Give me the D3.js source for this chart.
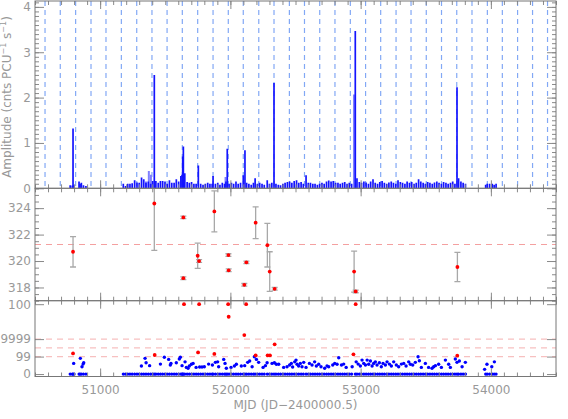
<!DOCTYPE html>
<html>
<head>
<meta charset="utf-8">
<script src="https://cdnjs.cloudflare.com/ajax/libs/d3/7.8.5/d3.min.js"></script>
<style>
  body { margin: 0; background: #fff; }
  svg { display: block; }
  text { font-family: "DejaVu Sans", sans-serif; fill: #999; }
</style>
</head>
<body>
<div id="chart-area"></div>
<script>
// ---- data ----
// observation times (MJD) and pulse amplitude (top panel)
var obsMjd = [50770, 50786, 50792, 50800, 50838, 50846, 50856, 50872, 50891,
  51178, 51195, 51212, 51229, 51246, 51265, 51283, 51300, 51318, 51335, 51352, 51370, 51388, 51404, 51416, 51428,
  51446, 51463, 51480, 51498, 51515, 51532, 51550, 51568, 51585, 51603, 51620, 51629, 51634, 51639, 51650, 51668,
  51685, 51702, 51720, 51737, 51754, 51772, 51790, 51808, 51826, 51843, 51860, 51867, 51885, 51903, 51920, 51938,
  51955, 51966, 51976, 51990, 52008, 52025, 52043, 52060, 52078, 52099, 52112, 52125, 52142, 52160, 52177, 52190,
  52208, 52225, 52243, 52260, 52283, 52300, 52318, 52335, 52350, 52368, 52385, 52403, 52420, 52438, 52455, 52472,
  52490, 52508, 52525, 52543, 52560, 52581, 52598, 52615, 52633, 52650, 52668, 52685, 52703, 52720, 52738, 52755,
  52773, 52790, 52808, 52826, 52843, 52861, 52878, 52896, 52913, 52931, 52959, 52972, 52990, 53007, 53025, 53042,
  53060, 53077, 53095, 53112, 53130, 53147, 53165, 53182, 53200, 53217, 53235, 53252, 53270, 53287, 53305, 53322,
  53340, 53357, 53375, 53392, 53410, 53427, 53445, 53462, 53480, 53497, 53515, 53532, 53550, 53567, 53585, 53602,
  53620, 53637, 53655, 53672, 53690, 53707, 53724, 53740, 53752, 53770, 53787, 53805,
  53960, 53972, 53990, 54010, 54025, 54040];
var obsAmp = [0.07, 0.06, 1.32, 0.07, 0.15, 0.1, 0.12, 0.07, 0.05,
  0.1, 0.05, 0.1, 0.1, 0.11, 0.18, 0.13, 0.12, 0.24, 0.2, 0.12, 0.15, 0.1, 0.16, 2.5, 0.16,
  0.12, 0.16, 0.16, 0.15, 0.1, 0.18, 0.12, 0.12, 0.2, 0.15, 0.27, 0.3, 0.7, 0.92, 0.33, 0.14,
  0.12, 0.14, 0.1, 0.1, 0.5, 0.1, 0.08, 0.1, 0.12, 0.1, 0.1, 0.27, 0.1, 0.12, 0.08, 0.12,
  0.1, 0.15, 0.87, 0.1, 0.12, 0.1, 0.15, 0.1, 0.12, 0.29, 0.84, 0.12, 0.1, 0.08, 0.12, 0.22,
  0.1, 0.12, 0.1, 0.08, 0.18, 0.1, 0.12, 2.32, 0.1, 0.08, 0.07, 0.1, 0.12, 0.14, 0.15, 0.12,
  0.16, 0.18, 0.12, 0.14, 0.1, 0.29, 0.12, 0.12, 0.1, 0.1, 0.08, 0.1, 0.12, 0.1, 0.15, 0.17,
  0.15, 0.16, 0.12, 0.12, 0.1, 0.12, 0.14, 0.1, 0.12, 0.1, 3.47, 0.22, 0.14, 0.12, 0.15, 0.13,
  0.1, 0.15, 0.2, 0.12, 0.1, 0.14, 0.16, 0.12, 0.1, 0.13, 0.15, 0.12, 0.1, 0.18, 0.14, 0.12,
  0.1, 0.15, 0.12, 0.14, 0.1, 0.12, 0.2, 0.15, 0.12, 0.1, 0.14, 0.12, 0.1, 0.13, 0.15, 0.12,
  0.1, 0.14, 0.12, 0.1, 0.12, 0.15, 0.1, 2.23, 0.22, 0.15, 0.12, 0.1,
  0.08, 0.1, 0.1, 0.1, 0.08, 0.1];
// fainter amplitude bars
var faintMjd = [51352, 51374, 51390, 51963, 52949];
var faintAmp = [0.15, 0.38, 0.3, 0.25, 2.07];

// reference epochs (dashed lines, top panel)
var epochMjd = [50577, 50694, 50812, 50930, 51045, 51163, 51281, 51398, 51514, 51631, 51749, 51867,
  51984, 52099, 52218, 52335, 52453, 52569, 52686, 52803, 52921, 53038, 53154, 53272,
  53387, 53504, 53621, 53738, 53855, 53973, 54088, 54205, 54320, 54435];

// middle panel: values with errors
var midMjd = [50792, 51416, 51639, 51639, 51749, 51760, 51877, 51985, 51987, 52107, 52123,
  52194, 52284, 52302, 52340, 52950, 52962, 53743];
var midVal = [320.7, 324.35, 323.3, 318.7, 320.4, 320.0, 323.75, 320.45, 319.3, 318.2, 319.9,
  322.9, 321.2, 319.2, 317.9, 319.2, 317.7, 319.55];
var midErr = [1.15, 3.55, 0.1, 0.1, 0.95, 0.1, 1.55, 0.1, 0.1, 0.1, 0.1,
  1.2, 1.65, 1.5, 0.1, 1.55, 0.1, 1.1];
var midRef = 321.25;

// bottom panel: blue points above zero
var lowMjd = [50797, 50848, 50861, 50869, 50874,
  51317, 51345, 51353, 51380, 51463, 51493, 51526, 51539, 51544, 51585, 51608, 51616, 51629, 51652,
  51662, 51675, 51685, 51701, 51714, 51737, 51764, 51782, 51800, 51833, 51862, 51885, 51902, 51910,
  51949, 51959, 51969, 52005, 52031, 52046, 52084, 52110, 52133, 52148, 52167, 52184, 52200, 52217,
  52251, 52269, 52282, 52320, 52338, 52353, 52371, 52409, 52435, 52455, 52468, 52478, 52494, 52504,
  52512, 52524, 52537, 52550, 52563, 52581, 52607, 52627, 52647, 52660, 52678, 52696, 52724, 52742,
  52755, 52786, 52801, 52819, 52832, 52853, 52870, 52889, 52935, 52966, 52981, 52998, 53011, 53024,
  53037, 53050, 53062, 53075, 53088, 53100, 53113, 53126, 53144, 53159, 53172, 53190, 53203, 53221,
  53236, 53254, 53274, 53292, 53313, 53331, 53349, 53369, 53382, 53400, 53420, 53441, 53451, 53466,
  53497, 53522, 53548, 53561, 53574, 53599, 53620, 53651, 53676, 53689, 53727, 53740, 53758, 53779,
  53804, 53952, 53970, 54007, 54027];
var lowVal = [0.61, 0.9, 0.42, 0.57, 0.65,
  0.46, 0.9, 0.65, 0.48, 0.57, 0.96, 0.84, 0.52, 0.61, 0.65, 0.86, 0.96, 0.48, 0.7,
  0.38, 0.33, 0.46, 0.56, 0.61, 0.38, 0.4, 0.4, 0.42, 0.57, 0.52, 0.67, 0.7, 0.42,
  0.84, 0.61, 0.33, 0.38, 0.46, 0.56, 0.46, 0.48, 0.67, 0.75, 0.42, 0.99, 0.84, 0.67,
  0.38, 0.48, 0.65, 0.61, 0.65, 0.56, 0.56, 0.38, 0.42, 0.52, 0.61, 0.4, 0.7, 0.8,
  0.56, 0.46, 0.61, 0.42, 0.67, 0.38, 0.61, 0.52, 0.7, 0.46, 0.56, 0.42, 0.33, 0.46,
  0.42, 0.52, 0.61, 0.56, 0.93, 0.52, 0.57, 0.38, 0.42, 0.7, 0.57, 0.46, 0.8, 0.61,
  0.52, 0.8, 0.56, 0.75, 0.46, 0.61, 0.7, 0.52, 0.65, 0.42, 0.61, 0.52, 0.7, 0.57,
  0.46, 0.7, 0.52, 0.42, 0.57, 0.61, 0.46, 0.7, 0.56, 0.52, 0.67, 0.99, 0.76, 0.38,
  0.61, 0.38, 0.33, 0.42, 0.48, 0.56, 0.38, 0.8, 0.56, 0.38, 0.86, 0.67, 0.75, 0.42,
  0.67, 0.27, 0.56, 0.42, 0.7];
// bottom panel: red points
var hiMjd = [50792, 51419, 51644, 51752, 51760, 51877, 51983, 51987, 52107, 52121, 52194,
  52286, 52304, 52340, 52945, 52962, 53742];
var hiVal = [1.18, 1.09, 4, 1.24, 4, 1.15, 4, 3.28, 2.23, 4, 1.07,
  1.07, 1.07, 1.7, 1.13, 4, 1.05];
var lowRefs = [1, 1.5, 2];

// ticks
var xTickVals = [51000, 52000, 53000, 54000];
var topTickVals = [0, 1, 2, 3, 4];
var midTickVals = [318, 320, 322, 324];
var botTickVals = [0, 1, 2, 4];
var botTickLabels = ["0", "99", "9999", "100"];

// ---- layout ----
var width = 568, height = 419;
var left = 35, right = 556;

var svg = d3.select("#chart-area").append("svg")
    .attr("width", width)
    .attr("height", height);

var x = d3.scaleLinear().domain([50500, 54500]).range([left, right]);
var yTop = d3.scaleLinear().domain([0, 4.13]).range([188.3, 1]);
var yMid = d3.scaleLinear().domain([317, 325.5]).range([300.7, 188.3]);
var yBot = d3.scaleLinear().domain([-0.14, 4.2]).range([376.5, 300.7]);

var defs = svg.append("defs");
[["clipTop", yTop], ["clipMid", yMid], ["clipBot", yBot]].forEach(c => {
  var r = c[1].range();
  defs.append("clipPath").attr("id", c[0])
    .append("rect")
      .attr("x", left).attr("y", r[1])
      .attr("width", right - left).attr("height", r[0] - r[1]);
});

// ---- top panel ----
var gTop = svg.append("g").attr("clip-path", "url(#clipTop)");

gTop.selectAll(".epoch")
  .data(epochMjd)
  .enter().append("line")
    .attr("class", "epoch")
    .attr("x1", d => x(d)).attr("x2", d => x(d))
    .attr("y1", yTop.range()[1]).attr("y2", yTop.range()[0])
    .attr("stroke", "#82a8f5")
    .attr("stroke-width", 1.2)
    .attr("stroke-dasharray", "5,4");

gTop.selectAll(".faint")
  .data(faintMjd)
  .enter().append("line")
    .attr("x1", d => x(d)).attr("x2", d => x(d))
    .attr("y1", yTop(0))
    .attr("y2", (d, i) => yTop(faintAmp[i]))
    .attr("stroke", "#7f7fff")
    .attr("stroke-width", 2);

gTop.selectAll(".bar")
  .data(obsMjd)
  .enter().append("line")
    .attr("class", "bar")
    .attr("x1", d => x(d)).attr("x2", d => x(d))
    .attr("y1", yTop(0))
    .attr("y2", (d, i) => yTop(obsAmp[i]))
    .attr("stroke", "#1414ff")
    .attr("stroke-width", 1.7);

// ---- middle panel ----
var gMid = svg.append("g").attr("clip-path", "url(#clipMid)");

gMid.append("line")
  .attr("x1", left).attr("x2", right)
  .attr("y1", yMid(midRef)).attr("y2", yMid(midRef))
  .attr("stroke", "#f4a0a0")
  .attr("stroke-width", 1.2)
  .attr("stroke-dasharray", "6,5");

var err = gMid.selectAll(".err")
  .data(midMjd)
  .enter().append("g")
    .attr("stroke", "#a8a8a8")
    .attr("stroke-width", 1.3);
err.append("line")
  .attr("x1", d => x(d)).attr("x2", d => x(d))
  .attr("y1", (d, i) => yMid(midVal[i] - midErr[i]))
  .attr("y2", (d, i) => yMid(midVal[i] + midErr[i]));
err.append("line")
  .attr("x1", d => x(d) - 3).attr("x2", d => x(d) + 3)
  .attr("y1", (d, i) => yMid(midVal[i] - midErr[i]))
  .attr("y2", (d, i) => yMid(midVal[i] - midErr[i]));
err.append("line")
  .attr("x1", d => x(d) - 3).attr("x2", d => x(d) + 3)
  .attr("y1", (d, i) => yMid(midVal[i] + midErr[i]))
  .attr("y2", (d, i) => yMid(midVal[i] + midErr[i]));

gMid.selectAll(".midpt")
  .data(midMjd)
  .enter().append("circle")
    .attr("cx", d => x(d))
    .attr("cy", (d, i) => yMid(midVal[i]))
    .attr("r", 1.9)
    .attr("fill", "#ff0000");

// ---- bottom panel ----
var gBot = svg.append("g").attr("clip-path", "url(#clipBot)");

gBot.selectAll(".ref")
  .data(lowRefs)
  .enter().append("line")
    .attr("x1", left).attr("x2", right)
    .attr("y1", d => yBot(d)).attr("y2", d => yBot(d))
    .attr("stroke", "#f7c0c0")
    .attr("stroke-width", 1.2)
    .attr("stroke-dasharray", "6,5");

gBot.selectAll(".zero")
  .data(obsMjd)
  .enter().append("circle")
    .attr("cx", d => x(d))
    .attr("cy", yBot(0))
    .attr("r", 1.6)
    .attr("fill", "#0000ff");

gBot.selectAll(".low")
  .data(lowMjd)
  .enter().append("circle")
    .attr("cx", d => x(d))
    .attr("cy", (d, i) => yBot(lowVal[i]))
    .attr("r", 1.7)
    .attr("fill", "#0000ff");

gBot.selectAll(".hi")
  .data(hiMjd)
  .enter().append("circle")
    .attr("cx", d => x(d))
    .attr("cy", (d, i) => yBot(hiVal[i]))
    .attr("r", 1.9)
    .attr("fill", "#ff0000");

// ---- axes ----
function styleAxis(sel) {
  sel.select(".domain").remove();
  sel.selectAll("line").attr("stroke", "#8a8a8a");
  sel.selectAll("text").attr("font-size", "12px").attr("fill", "#999");
}

function xAxes(yScale, labels) {
  var r = yScale.range();
  var minor = d3.range(50500, 54501, 100);
  [[d3.axisBottom, r[0]], [d3.axisTop, r[1]]].forEach(a => {
    svg.append("g")
      .attr("transform", "translate(0," + a[1] + ")")
      .call(a[0](x).tickValues(minor).tickSize(-4).tickFormat(""))
      .call(styleAxis);
  });
  svg.append("g")
    .attr("transform", "translate(0," + r[1] + ")")
    .call(d3.axisTop(x).tickValues(xTickVals).tickSize(-8).tickFormat(""))
    .call(styleAxis);
  svg.append("g")
    .attr("transform", "translate(0," + r[0] + ")")
    .call(d3.axisBottom(x).tickValues(xTickVals).tickSize(-8).tickPadding(9)
      .tickFormat(labels ? d3.format("d") : ""))
    .call(styleAxis);
}

function yAxes(yScale, major, minor, fmt) {
  svg.append("g")
    .attr("transform", "translate(" + left + ",0)")
    .call(d3.axisLeft(yScale).tickValues(minor).tickSize(-4).tickFormat(""))
    .call(styleAxis);
  svg.append("g")
    .attr("transform", "translate(" + right + ",0)")
    .call(d3.axisRight(yScale).tickValues(minor).tickSize(-4).tickFormat(""))
    .call(styleAxis);
  svg.append("g")
    .attr("transform", "translate(" + left + ",0)")
    .call(d3.axisLeft(yScale).tickValues(major).tickSize(-9).tickPadding(4).tickFormat(fmt))
    .call(styleAxis);
  svg.append("g")
    .attr("transform", "translate(" + right + ",0)")
    .call(d3.axisRight(yScale).tickValues(major).tickSize(-9).tickFormat(""))
    .call(styleAxis);
}

// Top panel axes
yAxes(yTop, topTickVals, d3.range(0, 4.11, 0.1), d3.format("d"));
xAxes(yTop, false);
// Middle panel axes
yAxes(yMid, midTickVals, d3.range(317, 325.6, 0.5), d3.format("d"));
xAxes(yMid, false);
// Bottom panel axes
yAxes(yBot, botTickVals, [], (d, i) => botTickLabels[botTickVals.indexOf(d)]);
xAxes(yBot, true);

// frames
[yTop, yMid, yBot].forEach(s => {
  var r = s.range();
  svg.append("rect")
    .attr("x", left).attr("y", r[1])
    .attr("width", right - left).attr("height", r[0] - r[1])
    .attr("fill", "none")
    .attr("stroke", "#777")
    .attr("stroke-width", 1);
});

// Y label
var yl = svg.append("text")
  .attr("transform", "translate(11," + 97 + ") rotate(-90)")
  .attr("text-anchor", "middle")
  .attr("font-size", "12px");
yl.append("tspan").text("Amplitude (cnts PCU");
yl.append("tspan").attr("dy", -5).attr("font-size", "8px").text("\u22121");
yl.append("tspan").attr("dy", 5).text(" s");
yl.append("tspan").attr("dy", -5).attr("font-size", "8px").text("\u22121");
yl.append("tspan").attr("dy", 5).text(")");

// X label
svg.append("text")
  .attr("x", (left + right) / 2)
  .attr("y", 409)
  .attr("text-anchor", "middle")
  .attr("font-size", "12px")
  .text("MJD (JD\u22122400000.5)");
</script>
</body>
</html>
